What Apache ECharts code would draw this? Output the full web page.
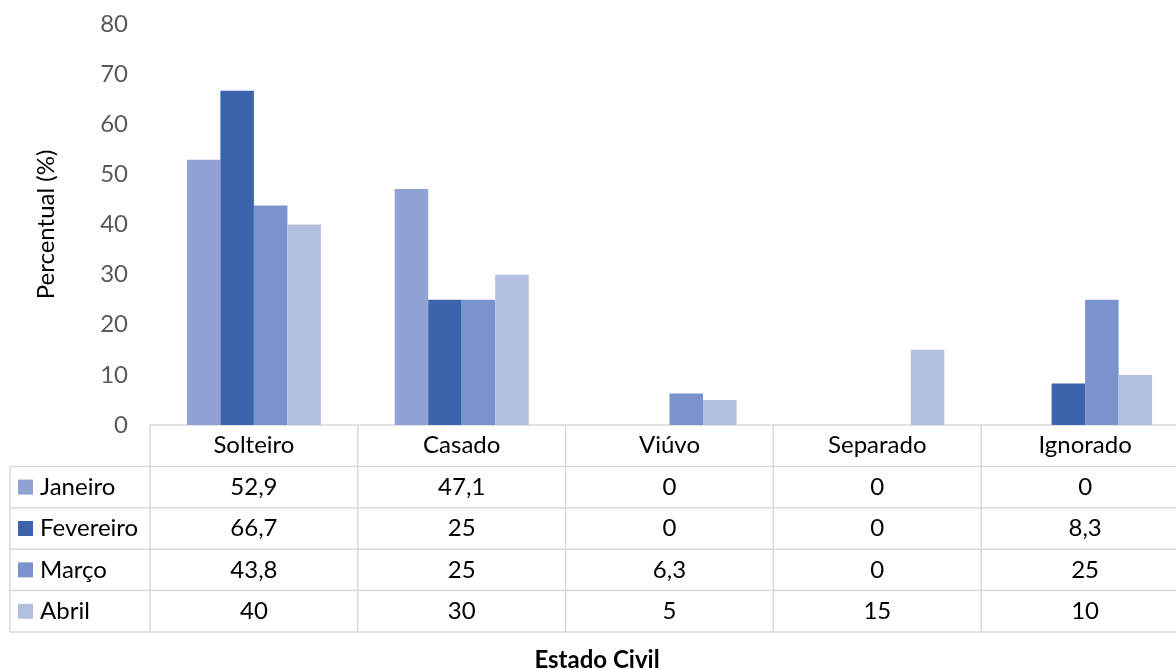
<!DOCTYPE html>
<html>
<head>
<meta charset="utf-8">
<script src="https://cdn.jsdelivr.net/npm/echarts@6/dist/echarts.min.js"></script>
<style>
  html, body { margin: 0; padding: 0; background: #fff; }
  #chart { width: 1176px; height: 669px; }
</style>
</head>
<body>
<div id="chart"></div>
<script>
// dados
var categorias = ["Solteiro", "Casado", "Viúvo", "Separado", "Ignorado"];
var meses = ["Janeiro", "Fevereiro", "Março", "Abril"];
var janeiro = [52.9, 47.1, 0, 0, 0];
var fevereiro = [66.7, 25, 0, 0, 8.3];
var marco = [43.8, 25, 6.3, 0, 25];
var abril = [40, 30, 5, 15, 10];
var yTicks = [0, 10, 20, 30, 40, 50, 60, 70, 80];

var valores = [janeiro, fevereiro, marco, abril];
var cores = ["#91a3d4", "#3c64ad", "#7a93cf", "#b3bfdf"];

var FONT = "Lato, 'Open Sans', sans-serif";
var gridLeft = 150, gridTop = 24, gridH = 401, gridW = 1039;
var rowH = 41.4;
var lineColor = "#d9d9d9";

function fmt(v) {
  return String(v).replace(".", ",");
}

var chart = echarts.init(document.getElementById("chart"));

var series = meses.map(function (m, i) {
  return {
    name: m,
    type: "bar",
    data: valores[i],
    barGap: 0,
    barCategoryGap: "35.5%",
    itemStyle: { color: cores[i] }
  };
});

chart.setOption({
  animation: false,
  grid: { left: gridLeft, top: gridTop, width: gridW, height: gridH, outerBoundsMode: "none" },
  xAxis: {
    type: "category",
    data: categorias,
    axisLine: { lineStyle: { color: lineColor, width: 1.5 } },
    axisTick: { show: false },
    axisLabel: { show: false }
  },
  yAxis: {
    type: "value",
    min: yTicks[0],
    max: yTicks[yTicks.length - 1],
    interval: 10,
    splitLine: { show: false },
    axisLine: { show: false },
    axisTick: { show: false },
    axisLabel: { color: "#595959", fontSize: 24, fontFamily: FONT, margin: 22 },
    name: "Percentual (%)",
    nameLocation: "middle",
    nameGap: 92,
    nameRotate: 90,
    nameTextStyle: { color: "#000", fontSize: 24, fontFamily: FONT }
  },
  series: series
});

// tabela de dados abaixo do eixo
var base = gridTop + gridH;
var catW = gridW / categorias.length;
var elems = [];

function hline(y, x1, x2) {
  elems.push({ type: "line", shape: { x1: x1, y1: y, x2: x2, y2: y },
    style: { stroke: lineColor, lineWidth: 1.5 } });
}
function vline(x, y1, y2) {
  elems.push({ type: "line", shape: { x1: x, y1: y1, x2: x, y2: y2 },
    style: { stroke: lineColor, lineWidth: 1.5 } });
}
function txt(t, x, y, align) {
  elems.push({ type: "text", x: x, y: y,
    style: { text: t, fill: "#000", font: "24px " + FONT, align: align || "center", verticalAlign: "middle" } });
}

var bottom = base + rowH * (meses.length + 1);
for (var r = 1; r <= meses.length + 1; r++) {
  hline(base + rowH * r, 10, 1176);
}
vline(10, base + rowH, bottom);
for (var c = 0; c < categorias.length; c++) {
  vline(gridLeft + catW * c, base, bottom);
}

categorias.forEach(function (cat, c) {
  var cx = chart.convertToPixel({ xAxisIndex: 0 }, c);
  txt(cat, cx, base + rowH / 2);
  valores.forEach(function (arr, s) {
    txt(fmt(arr[c]), cx, base + rowH * (s + 1.5));
  });
});

meses.forEach(function (m, s) {
  var cy = base + rowH * (s + 1.5);
  elems.push({ type: "rect", shape: { x: 18, y: cy - 7.5, width: 15, height: 15 },
    style: { fill: cores[s] } });
  txt(m, 40, cy, "left");
});

elems.push({ type: "text", x: 597, y: 660,
  style: { text: "Estado Civil", fill: "#000", font: "bold 24px " + FONT, align: "center", verticalAlign: "middle" } });

chart.setOption({ graphic: { elements: elems } });
</script>
</body>
</html>
